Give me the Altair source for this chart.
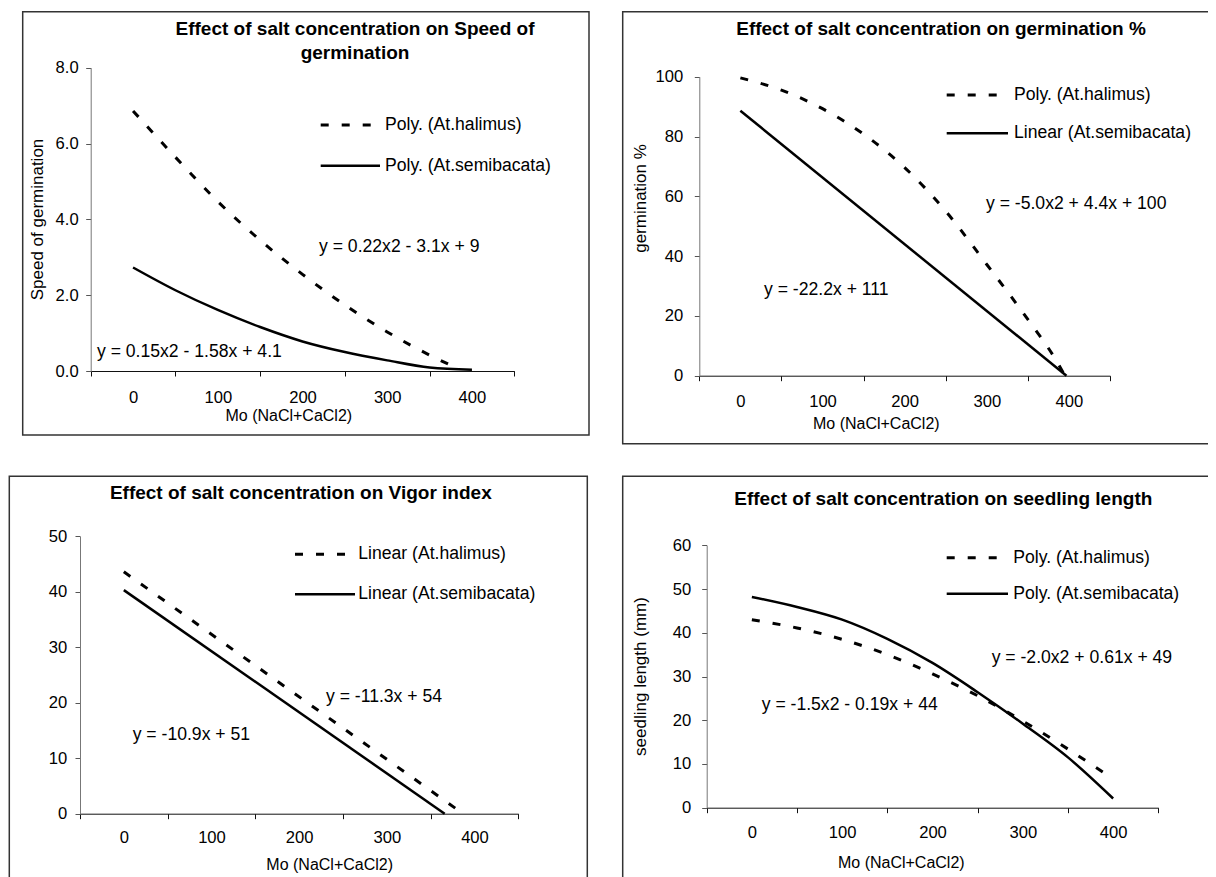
import altair as alt
import pandas as pd

FONT = "Liberation Sans"

# ---------------- data ----------------
# Panel 1: Speed of germination
speed_mo_halimus = [0, 50, 100, 150, 200, 250, 300, 350, 385]
speed_halimus = [6.86, 5.64, 4.47, 3.45, 2.55, 1.74, 1.03, 0.42, 0.05]
speed_mo_semi = [0, 50, 100, 150, 200, 250, 300, 350, 400]
speed_semi = [2.73, 2.13, 1.61, 1.16, 0.78, 0.50, 0.28, 0.09, 0.03]

# Panel 2: germination %
germ_mo_halimus = [0, 50, 100, 150, 200, 250, 300, 350, 384, 395]
germ_halimus = [99.6, 95.5, 89.3, 80.8, 69.6, 55.0, 37.2, 18.8, 5.3, 0.0]
germ_mo_semi = [0, 397]
germ_semi = [88.6, 0.0]

# Panel 3: Vigor index
vigor_mo_halimus = [0, 387]
vigor_halimus = [43.6, 0.0]
vigor_mo_semi = [0, 366]
vigor_semi = [40.3, 0.0]

# Panel 4: seedling length
seed_mo = [0, 50, 100, 150, 200, 250, 300, 350, 400]
seed_halimus = [43.0, 41.1, 38.5, 35.0, 30.6, 25.6, 19.8, 13.4, 6.6]
seed_semi = [48.2, 45.9, 43.0, 38.6, 33.1, 26.4, 19.2, 11.5, 2.1]

VIEW_W, VIEW_H = 1200, 869
DASH = [8, 13]


def one():
    return pd.DataFrame({"k": [0]})


def panel(xr, yr, ymax, yvals, yfmt, hal_x, hal_y, semi_x, semi_y, interp,
          ytitle, ytitle_xy, xtitle_xy, xlab_pad, ylab_pad, eqs):
    W = xr[1] - xr[0]
    xenc = alt.X("mo:Q", scale=alt.Scale(domain=[-50, 450], nice=False, zero=False, range=list(xr)),
                 axis=alt.Axis(orient="bottom", offset=yr[0] - VIEW_H,
                               values=[-50, 50, 150, 250, 350, 450],
                               labelExpr="datum.value < 400 ? format(datum.value + 50, 'd') : ''",
                               labelOffset=W / 10, labelFlush=False, labelBaseline="middle",
                               labelPadding=xlab_pad, tickSize=5, grid=False,
                               domainColor="#111", tickColor="#111",
                               labelFont=FONT, labelFontSize=16.6, labelColor="black",
                               title="Mo (NaCl+CaCl2)", titleFont=FONT, titleFontSize=16,
                               titleFontWeight="normal", titleColor="black",
                               titleX=xtitle_xy[0], titleY=xtitle_xy[1], titleBaseline="middle",
                               titleAlign="center"))
    yaxis_kw = dict(orient="left", offset=-xr[0], values=yvals, format=yfmt, tickSize=5,
                    grid=False, labelPadding=ylab_pad, domainColor="#777", tickColor="#555",
                    labelFont=FONT, labelFontSize=16.6, labelColor="black", labelFlush=False)
    if ytitle:
        yaxis_kw.update(title=ytitle, titleFont=FONT, titleFontSize=17, titleFontWeight="normal",
                        titleColor="black", titleX=ytitle_xy[0], titleY=ytitle_xy[1],
                        titleBaseline="middle", titleAlign="center")
    else:
        yaxis_kw.update(title=None)
    yenc = alt.Y("val:Q", scale=alt.Scale(domain=[0, ymax], nice=False, zero=False, range=list(yr)),
                 axis=alt.Axis(**yaxis_kw))

    df_h = pd.DataFrame({"mo": hal_x, "val": hal_y})
    df_s = pd.DataFrame({"mo": semi_x, "val": semi_y})
    line_h = alt.Chart(df_h).mark_line(color="black", strokeWidth=3, strokeDash=DASH,
                                        interpolate=interp).encode(x=xenc, y=yenc)
    line_s = alt.Chart(df_s).mark_line(color="black", strokeWidth=2.5,
                                        interpolate=interp).encode(x=xenc, y=yenc)
    eq_df = pd.DataFrame({"mo": [e[0] for e in eqs], "val": [e[1] for e in eqs],
                          "label": [e[2] for e in eqs]})
    eq_text = alt.Chart(eq_df).mark_text(align="left", baseline="middle", font=FONT,
                                         fontSize=17.6, color="black").encode(
        x=alt.X("mo:Q"), y=alt.Y("val:Q"), text="label:N")
    return alt.layer(line_h, line_s, eq_text)


def decorations(box, title_lines, legend):
    out = []
    out.append(alt.Chart(one()).mark_rect(fillOpacity=0, stroke="#333", strokeWidth=1.5).encode(
        x=alt.value(box[0]), x2=alt.value(box[1]), y=alt.value(box[2]), y2=alt.value(box[3])))
    (lx0, lx1, ly_d, ly_s, ltx, lab_d, lab_s) = legend
    out.append(alt.Chart(one()).mark_rule(color="black", strokeWidth=3, strokeDash=DASH).encode(
        x=alt.value(lx0), x2=alt.value(lx1), y=alt.value(ly_d)))
    out.append(alt.Chart(one()).mark_rule(color="black", strokeWidth=2.5).encode(
        x=alt.value(lx0), x2=alt.value(lx1), y=alt.value(ly_s)))
    for lab, ly in ((lab_d, ly_d), (lab_s, ly_s)):
        out.append(alt.Chart(one()).mark_text(text=lab, align="left", baseline="middle", font=FONT,
                                              fontSize=17.6, color="black").encode(
            x=alt.value(ltx), y=alt.value(ly)))
    for (txt, tx, ty) in title_lines:
        out.append(alt.Chart(one()).mark_text(text=txt, align="center", baseline="middle",
                                              font=FONT, fontSize=19, fontWeight="bold",
                                              color="black").encode(
            x=alt.value(tx), y=alt.value(ty)))
    return out


p1 = panel((82.7, 506.3), (363.0, 59.7), 8, [0, 2, 4, 6, 8], ".1f",
           speed_mo_halimus, speed_halimus, speed_mo_semi, speed_semi, "monotone",
           ytitle="Speed of germination", ytitle_xy=(-52.7, 211), xtitle_xy=(280.3, 44),
           xlab_pad=21, ylab_pad=7.5,
           eqs=[(219.5, 3.27, "y = 0.22x2 - 3.1x + 9"), (-42.6, 0.50, "y = 0.15x2 - 1.58x + 4.1")])
d1 = decorations(box=(14.7, 581, 3.7, 427),
                 title_lines=[("Effect of salt concentration on Speed of", 347, 21),
                              ("germination", 347, 45)],
                 legend=(312.7, 372, 117, 157.7, 377, "Poly. (At.halimus)", "Poly. (At.semibacata)"))

p2 = panel((691.3, 1102.0), (367.7, 68.7), 100, [0, 20, 40, 60, 80, 100], "d",
           germ_mo_halimus, germ_halimus, germ_mo_semi, germ_semi, "monotone",
           ytitle="germination %", ytitle_xy=(-59.3, 190), xtitle_xy=(867.8, 47.6),
           xlab_pad=21, ylab_pad=11.5,
           eqs=[(299.0, 57.4, "y = -5.0x2 + 4.4x + 100"), (28.8, 28.7, "y = -22.2x + 111")])
d2 = decorations(box=(614.7, 1210, 3.7, 435.7),
                 title_lines=[("Effect of salt concentration on germination %", 933, 21.3)],
                 legend=(938.7, 1000, 87, 125.3, 1006, "Poly. (At.halimus)", "Linear (At.semibacata)"))

p3 = panel((72.0, 510.3), (805.7, 528.3), 50, [0, 10, 20, 30, 40, 50], "d",
           vigor_mo_halimus, vigor_halimus, vigor_mo_semi, vigor_semi, "linear",
           ytitle=None, ytitle_xy=None, xtitle_xy=(321.2, 51),
           xlab_pad=18.3, ylab_pad=8.3,
           eqs=[(230.6, 21.0, "y = -11.3x + 54"), (10.1, 14.2, "y = -10.9x + 51")])
d3 = decorations(box=(1.3, 579.3, 468.3, 880),
                 title_lines=[("Effect of salt concentration on Vigor index", 292.8, 485)],
                 legend=(287, 347, 546.3, 586.3, 350.3, "Linear (At.halimus)", "Linear (At.semibacata)"))

p4 = panel((698.7, 1150.3), (799.7, 537.3), 60, [0, 10, 20, 30, 40, 50, 60], "d",
           seed_mo, seed_halimus, seed_mo, seed_semi, "monotone",
           ytitle="seedling length (mm)", ytitle_xy=(-66.7, 668), xtitle_xy=(892.8, 54.3),
           xlab_pad=19.3, ylab_pad=11,
           eqs=[(265.5, 34.3, "y = -2.0x2 + 0.61x + 49"), (10.9, 23.4, "y = -1.5x2 - 0.19x + 44")])
d4 = decorations(box=(614.7, 1210, 468.3, 880),
                 title_lines=[("Effect of salt concentration on seedling length", 935.3, 490.7)],
                 legend=(938.7, 1000, 549.7, 585.7, 1005.3, "Poly. (At.halimus)", "Poly. (At.semibacata)"))

chart = alt.layer(p1, p2, p3, p4, *d1, *d2, *d3, *d4).resolve_scale(
    x="independent", y="independent").resolve_axis(x="independent", y="independent").properties(
    width=VIEW_W, height=VIEW_H, padding=0,
    autosize=alt.AutoSizeParams(type="none")).configure_view(strokeWidth=0)

chart.save("out.html", embed_options={"renderer": "svg", "actions": False})
